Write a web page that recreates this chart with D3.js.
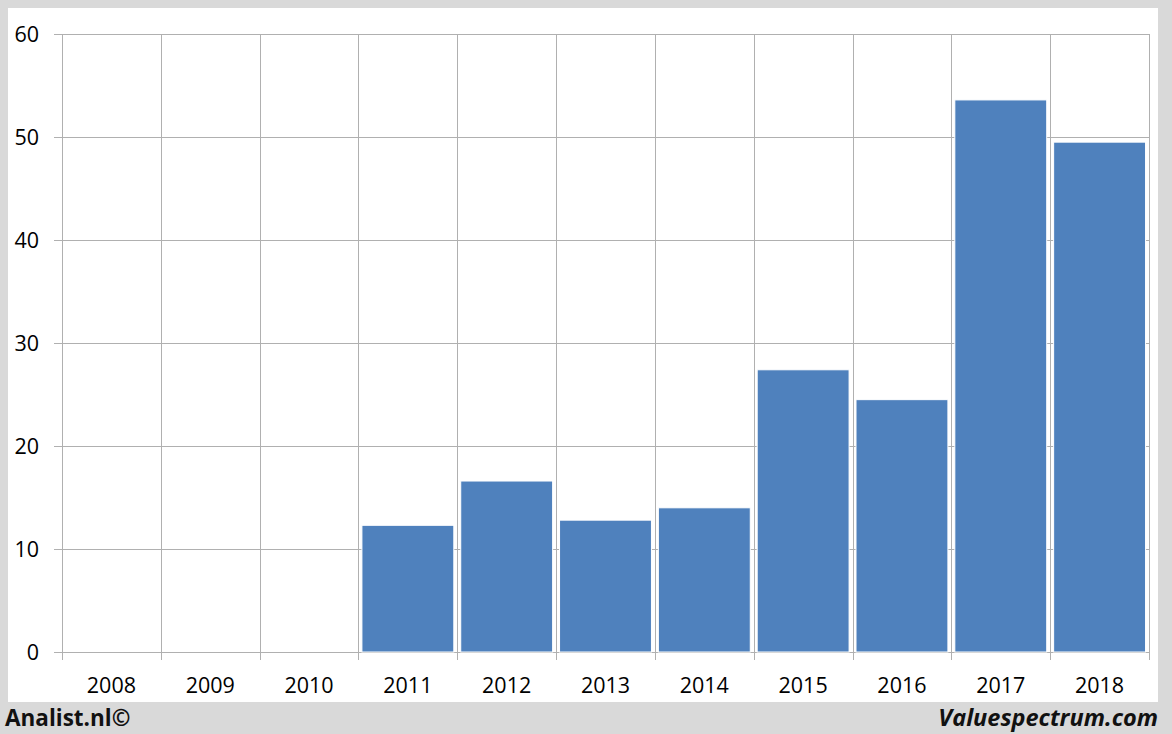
<!DOCTYPE html>
<html><head><meta charset="utf-8">
<script src="https://cdn.jsdelivr.net/npm/d3@7"></script>
<style>body{margin:0;background:#d9d9d9;}svg{display:block;}</style>
</head><body>
<svg id="c" width="1172" height="734"></svg>
<script>
const categories = ["2008","2009","2010","2011","2012","2013","2014","2015","2016","2017","2018"];
const values = [null,null,null,12.3,16.6,12.8,14.0,27.4,24.5,53.6,49.5];
const yTicks = [0,10,20,30,40,50,60];

(function(){
const svg = d3.select("#c");
svg.append("rect").attr("x",0).attr("y",0).attr("width",1172).attr("height",734).attr("fill","#d9d9d9");
svg.append("rect").attr("x",8).attr("y",8).attr("width",1150).attr("height",694).attr("fill","#ffffff");

const pL=62,pR=1149,pT=34,pB=652;
const x = d3.scaleBand().domain(categories).range([pL,pR]).paddingInner(0.07).paddingOuter(0.035);
const xb = d3.scaleBand().domain(categories).range([pL,pR]).padding(0);
const y = d3.scaleLinear().domain([0,60]).range([pB,pT]);
const grid="#b0b0b0";
const font="'Open Sans','Liberation Sans',sans-serif";

svg.append("g").selectAll("line").data(yTicks).join("line")
 .attr("x1",54).attr("x2",pR).attr("y1",d=>Math.round(y(d))+0.5).attr("y2",d=>Math.round(y(d))+0.5)
 .attr("stroke",grid).attr("stroke-width",1);
const vx = categories.map(c=>xb(c)).concat([pR]);
svg.append("g").selectAll("line").data(vx).join("line")
 .attr("x1",d=>Math.round(d)+0.5).attr("x2",d=>Math.round(d)+0.5).attr("y1",pT).attr("y2",660)
 .attr("stroke",grid).attr("stroke-width",1);

const data = categories.map((c,i)=>({c,v:values[i]})).filter(d=>d.v!=null);
svg.append("g").selectAll("rect").data(data).join("rect")
 .attr("x",d=>x(d.c)).attr("width",x.bandwidth())
 .attr("y",d=>y(d.v)).attr("height",d=>y(0)-y(d.v))
 .attr("fill","#4f81bd").attr("stroke","#ffffff").attr("stroke-width",1);

svg.append("g").selectAll("text").data(yTicks).join("text")
 .attr("x",39).attr("y",d=>y(d)+7.5).attr("text-anchor","end")
 .attr("font-family",font).attr("font-size",21.5).attr("fill","#000").text(d=>d);
svg.append("g").selectAll("text").data(categories).join("text")
 .attr("x",d=>xb(d)+xb.bandwidth()/2).attr("y",693).attr("text-anchor","middle")
 .attr("font-family",font).attr("font-size",21.5).attr("fill","#000").text(d=>d);

svg.append("text").attr("x",5).attr("y",726).attr("font-family",font).attr("font-weight","bold")
 .attr("font-size",22.5).attr("fill","#111").text("Analist.nl©");
svg.append("text").attr("x",1158).attr("y",726).attr("text-anchor","end").attr("font-family",font)
 .attr("font-weight","bold").attr("font-style","italic").attr("font-size",23.5).attr("fill","#111").text("Valuespectrum.com");
})();
</script>
</body></html>
